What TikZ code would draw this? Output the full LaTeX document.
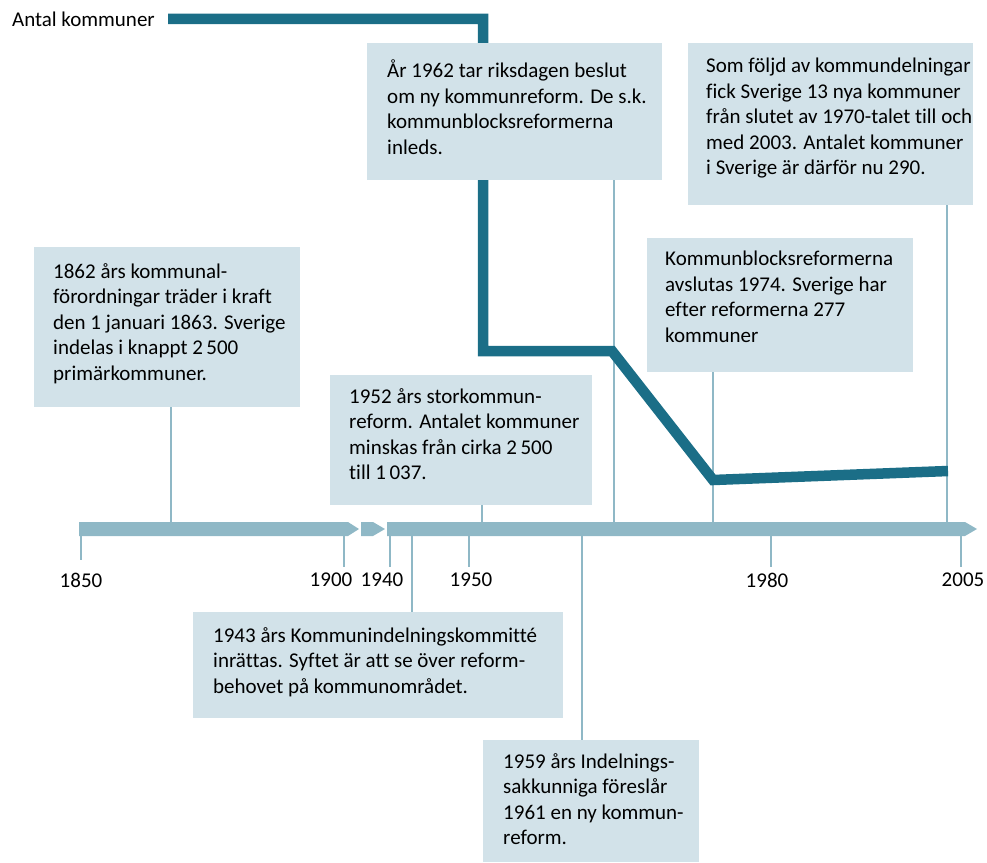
\documentclass[tikz,border=0pt]{standalone}
\usepackage{fontspec}
\setmainfont{Carlito}[Ligatures=NoCommon]
\usetikzlibrary{positioning,calc}
\definecolor{reform}{HTML}{1B6E87}
\definecolor{tline}{HTML}{8FB8C6}
\definecolor{boxfill}{HTML}{D2E2E9}
\tikzset{
  card/.style={fill=boxfill, anchor=north west, inner sep=0pt},
  txt/.style={anchor=north west, align=left, inner sep=0pt,
    font=\fontsize{21}{25.5}\selectfont,
    execute at begin node={\rule{0pt}{19pt}}},
  year/.style={inner sep=0pt, font=\fontsize{21}{24}\selectfont},
  link/.style={draw=tline, line width=2.5pt},
  antal/.style={draw=reform, line width=10.5pt, line join=miter},
}

\begin{document}
\begin{tikzpicture}[x=1pt, y=-1pt]
    \useasboundingbox (0,0) rectangle (987,862);
    % time axis
    \fill[tline] (79,522) -- (348,522) -- (359,529) -- (348,536) -- (79,536) -- cycle;
    \fill[tline] (361,522) -- (373,522) -- (385,529) -- (373,536) -- (361,536) -- cycle;
    \fill[tline] (387,522) -- (965,522) -- (977,529) -- (965,536) -- (387,536) -- cycle;
    \coordinate (a1862) at (171,522);
    \coordinate (a1952) at (482,522);
    \coordinate (a1962) at (614,522);
    \coordinate (a1974) at (713,522);
    \coordinate (a2005) at (947,522);
    \coordinate (a1943) at (412,536);
    \coordinate (a1959) at (582,536);
    % ticks and years
    \node[year] (l1850) at (81,580) {1850};
    \node[year] (l1900) at (331,580) {1900};
    \node[year] (l1940) at (382,580) {1940};
    \node[year] (l1950) at (471,580) {1950};
    \node[year] (l1980) at (767,580) {1980};
    \node[year] (l2005) at (963,580) {2005};
    \draw[link] (81,536) -- ++(0,24);
    \draw[link] (344,536) -- ++(0,31);
    \draw[link] (390,536) -- ++(0,31);
    \draw[link] (469,536) -- ++(0,31);
    \draw[link] (771,536) -- ++(0,31);
    \draw[link] (961,536) -- ++(0,31);
    % boxes
    \node[card, minimum width=266pt, minimum height=160pt] (b1862) at (34,247) {};
    \node[card, minimum width=262pt, minimum height=130pt] (b1952) at (330,375) {};
    \node[card, minimum width=266pt, minimum height=134pt] (b1974) at (647,238) {};
    \node[card, minimum width=285pt, minimum height=162pt] (b2005) at (688,43) {};
    \node[card, minimum width=370pt, minimum height=106pt] (b1943) at (193,612) {};
    \node[card, minimum width=216pt, minimum height=122pt] (b1959) at (483,740) {};
    % links to the axis
    \draw[link] (b1862.south -| a1862) -- (a1862);
    \draw[link] (b1952.south -| a1952) -- (a1952);
    \draw[link] (614,180) -- (a1962);
    \draw[link] (b1974.south -| a1974) -- (a1974);
    \draw[link] (b2005.south -| a2005) -- (a2005);
    \draw[link] (a1943) -- (a1943 |- b1943.north);
    \draw[link] (a1959) -- (a1959 |- b1959.north);
    % number of municipalities
    \node[year, anchor=base east] (antal) at (155,26) {Antal kommuner};
    \coordinate (p1) at (483,351);
    \coordinate (p2) at (612,351);
    \coordinate (p3) at (713,480);
    \coordinate (p4) at (948,471);
    \draw[antal] ([xshift=13pt]antal.east) -| (p1) -- (p2) -- (p3) -- (p4);
    \node[card, minimum width=295pt, minimum height=137pt] (b1962) at (367,43) {};
    % texts
    \node[txt] (t1862) at ([shift={(19,16)}]b1862.north west)
      {1862 års kommunal-\\förordningar träder i kraft\\den 1 januari 1863. Sverige\\indelas i knappt 2\,500\\primärkommuner.};
    \node[txt] (t1952) at ([shift={(19,13)}]b1952.north west)
      {1952 års storkommun-\\reform. Antalet kommuner\\minskas från cirka 2\,500\\till 1\,037.};
    \node[txt] (t1962) at ([shift={(20,17)}]b1962.north west)
      {År 1962 tar riksdagen beslut\\om ny kommunreform. De s.k.\\kommunblocksreformerna\\inleds.};
    \node[txt] (t1974) at ([shift={(18,13)}]b1974.north west)
      {Kommunblocksreformerna\\avslutas 1974. Sverige har\\efter reformerna 277\\kommuner};
    \node[txt] (t2005) at ([shift={(18,15)}]b2005.north west)
      {Som följd av kommundelningar\\fick Sverige 13 nya kommuner\\från slutet av 1970-talet till och\\med 2003. Antalet kommuner\\i Sverige är därför nu 290.};
    \node[txt] (t1943) at ([shift={(20,15)}]b1943.north west)
      {1943 års Kommunindelningskommitté\\inrättas. Syftet är att se över reform-\\behovet på kommunområdet.};
    \node[txt] (t1959) at ([shift={(20,13)}]b1959.north west)
      {1959 års Indelnings-\\sakkunniga föreslår\\1961 en ny kommun-\\reform.};
\end{tikzpicture}
\end{document}
